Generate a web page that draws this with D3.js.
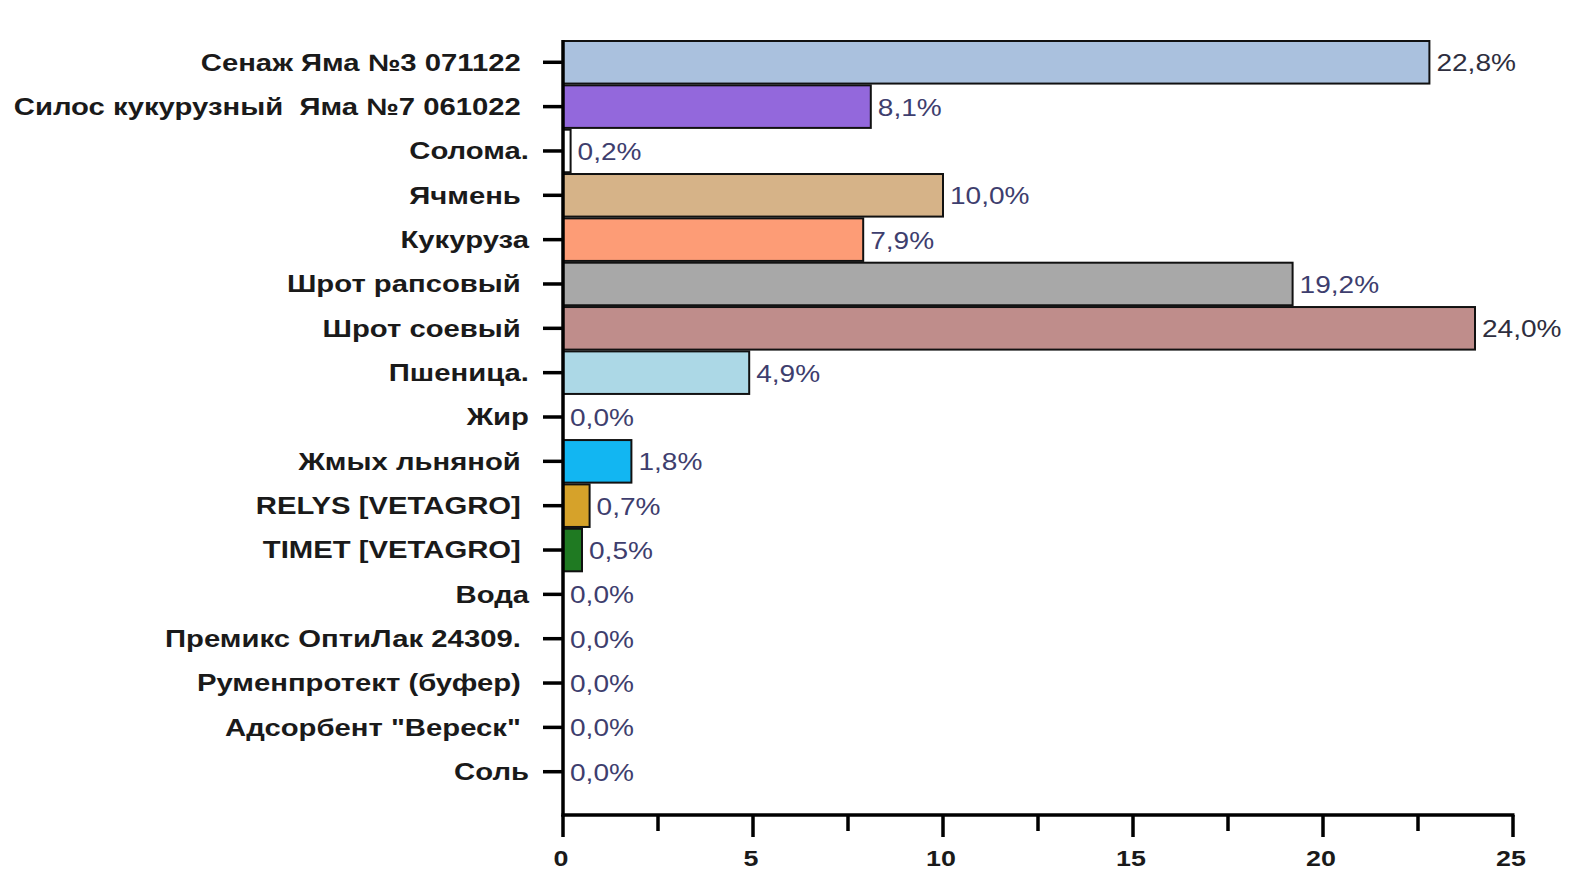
<!DOCTYPE html>
<html>
<head>
<meta charset="utf-8">
<script src="https://cdn.jsdelivr.net/npm/d3@7"></script>
<style>
  html, body { margin: 0; padding: 0; background: #ffffff; }
  svg text { white-space: pre; }
</style>
</head>
<body>
<svg id="chart" width="1572" height="870"></svg>
<script>
// Ration composition, share of dry matter (%)
const categories = [
  "Сенаж Яма №3 071122 ",
  "Силос кукурузный  Яма №7 061022 ",
  "Солома.",
  "Ячмень ",
  "Кукуруза",
  "Шрот рапсовый ",
  "Шрот соевый ",
  "Пшеница.",
  "Жир",
  "Жмых льняной ",
  "RELYS [VETAGRO] ",
  "TIMET [VETAGRO] ",
  "Вода",
  "Премикс ОптиЛак 24309. ",
  "Руменпротект (буфер) ",
  "Адсорбент \"Вереск\" ",
  "Соль"
];
const values = [22.8, 8.1, 0.2, 10.0, 7.9, 19.2, 24.0, 4.9, 0.0, 1.8, 0.7, 0.5, 0.0, 0.0, 0.0, 0.0, 0.0];
const barColors = [
  "#aac1de", "#9368dc", "#ffffff", "#d6b388", "#fd9c76", "#a8a8a8",
  "#bf8d8b", "#acd8e6", "#ffffff", "#12b6f2", "#d6a22a", "#1f7a22",
  "#ffffff", "#ffffff", "#ffffff", "#ffffff", "#ffffff"
];
const xTickValues = [0, 5, 10, 15, 20, 25];
const xMinorTicks = [2.5, 7.5, 12.5, 17.5, 22.5];

const svg = d3.select("#chart");
const stretch = 1.22; // horizontally widened lettering
const axisY = 815;

const x = d3.scaleLinear().domain([0, 25]).range([563, 1513]);
const y = d3.scaleBand().domain(categories).range([41, 793]).paddingInner(0.04);

// bars
svg.append("g").selectAll("rect")
  .data(values)
  .join("rect")
  .attr("x", x(0))
  .attr("y", (d, i) => y(categories[i]))
  .attr("width", d => x(d) - x(0))
  .attr("height", y.bandwidth())
  .attr("fill", (d, i) => barColors[i])
  .attr("stroke", "#111")
  .attr("stroke-width", 2)
  .attr("display", d => d > 0 ? null : "none");

// value labels
svg.append("g").selectAll("text")
  .data(values)
  .join("text")
  .attr("transform", (d, i) => `translate(${x(d) + 7},${y(categories[i]) + y.bandwidth() / 2 + 1}) scale(${stretch},1)`)
  .attr("dy", "0.35em")
  .attr("font-family", "Liberation Sans, Arial, sans-serif")
  .attr("font-size", 23)
  .attr("fill", (d, i) => (i === 0 || i === 6) ? "#2e2e3e" : "#3e3e6e")
  .text(d => d3.format(".1f")(d).replace(".", ",") + "%");

// y axis
const yAxis = svg.append("g");
yAxis.append("line")
  .attr("x1", x(0)).attr("x2", x(0))
  .attr("y1", 40).attr("y2", axisY + 1.5)
  .attr("stroke", "#000").attr("stroke-width", 3.5);
yAxis.selectAll("line.tick")
  .data(categories)
  .join("line")
  .attr("class", "tick")
  .attr("x1", x(0) - 20).attr("x2", x(0))
  .attr("y1", d => y(d) + y.bandwidth() / 2)
  .attr("y2", d => y(d) + y.bandwidth() / 2)
  .attr("stroke", "#000").attr("stroke-width", 3.5);
yAxis.selectAll("text")
  .data(categories)
  .join("text")
  .attr("transform", d => `translate(${x(0) - 34},${y(d) + y.bandwidth() / 2}) scale(${stretch},1)`)
  .attr("dy", "0.35em")
  .attr("text-anchor", "end")
  .attr("font-family", "Liberation Sans, Arial, sans-serif")
  .attr("font-weight", "bold")
  .attr("font-size", 24)
  .attr("fill", "#1a1a1a")
  .text(d => d);

// x axis
const xAxis = svg.append("g");
xAxis.append("line")
  .attr("x1", x(0) - 1.5).attr("x2", x(25) + 1.5)
  .attr("y1", axisY).attr("y2", axisY)
  .attr("stroke", "#000").attr("stroke-width", 3.5);
xAxis.selectAll("line.major")
  .data(xTickValues)
  .join("line")
  .attr("class", "major")
  .attr("x1", d => x(d)).attr("x2", d => x(d))
  .attr("y1", axisY).attr("y2", axisY + 22)
  .attr("stroke", "#000").attr("stroke-width", 3.5);
xAxis.selectAll("line.minor")
  .data(xMinorTicks)
  .join("line")
  .attr("class", "minor")
  .attr("x1", d => x(d)).attr("x2", d => x(d))
  .attr("y1", axisY).attr("y2", axisY + 16)
  .attr("stroke", "#000").attr("stroke-width", 3.5);
xAxis.selectAll("text")
  .data(xTickValues)
  .join("text")
  .attr("transform", d => `translate(${x(d) - 2},${866}) scale(${stretch},1)`)
  .attr("text-anchor", "middle")
  .attr("font-family", "Liberation Sans, Arial, sans-serif")
  .attr("font-weight", "bold")
  .attr("font-size", 22)
  .attr("fill", "#1a1a1a")
  .text(d => d);
</script>
</body>
</html>
